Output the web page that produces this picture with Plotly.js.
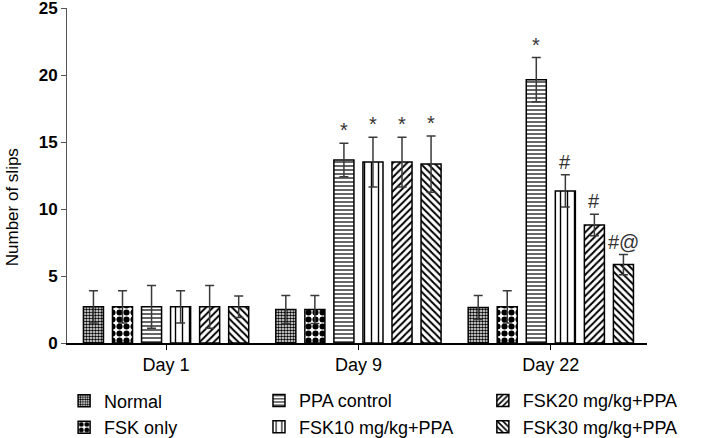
<!DOCTYPE html>
<html>
<head>
<meta charset="utf-8">
<script src="https://cdn.plot.ly/plotly-3.0.1.min.js"></script>
<style>html,body{margin:0;padding:0;background:#fff;}#chart{width:706px;height:438px;}</style>
</head>
<body>
<div id="chart"></div>
<script>
const days = ["Day 1", "Day 9", "Day 22"];
const groups = ["Normal", "FSK only", "PPA control", "FSK10 mg/kg+PPA", "FSK20 mg/kg+PPA", "FSK30 mg/kg+PPA"];
const yTitle = "Number of slips";
const normalVals = [2.7, 2.5, 2.65];
const normalErr = [1.2, 1.05, 0.9];
const fskOnlyVals = [2.7, 2.5, 2.7];
const fskOnlyErr = [1.2, 1.05, 1.2];
const ppaVals = [2.7, 13.65, 19.65];
const ppaErr = [1.6, 1.25, 1.65];
const fsk10Vals = [2.7, 13.5, 11.35];
const fsk10Err = [1.2, 1.85, 1.2];
const fsk20Vals = [2.7, 13.5, 8.8];
const fsk20Err = [1.6, 1.85, 0.8];
const fsk30Vals = [2.7, 13.35, 5.85];
const fsk30Err = [0.8, 2.1, 0.75];
const marks = [
  ["", "", "", "", "", ""],
  ["", "", "*", "*", "*", "*"],
  ["", "", "*", "#", "#", "#@"]
];

const values = [normalVals, fskOnlyVals, ppaVals, fsk10Vals, fsk20Vals, fsk30Vals];
const errs = [normalErr, fskOnlyErr, ppaErr, fsk10Err, fsk20Err, fsk30Err];
const patterns = [
  {shape: ".", size: 3, solidity: 0.55},
  {shape: ".", size: 7, solidity: 0.6},
  {shape: "-", size: 4, solidity: 0.3},
  {shape: "|", size: 7, solidity: 0.2},
  {shape: "/", size: 5, solidity: 0.4},
  {shape: "\\", size: 5, solidity: 0.4}
];
const legendIds = ["legend", "legend", "legend2", "legend2", "legend3", "legend3"];
const FONT = "Liberation Sans, Arial, sans-serif";

const traces = groups.map((g, i) => ({
  type: "bar",
  name: g,
  x: days,
  y: values[i],
  legend: legendIds[i],
  marker: {
    color: "#ffffff",
    line: {color: "#000000", width: 1.5},
    pattern: Object.assign({fgcolor: "#000000", bgcolor: "#ffffff", fillmode: "replace"}, patterns[i])
  },
  error_y: {type: "data", array: errs[i], visible: true, color: "#3a3a3a", thickness: 1.5, width: 4.5}
}));

const bargap = 0.094;
const slot = (1 - bargap) / groups.length;
const annotations = [];
days.forEach((d, di) => {
  groups.forEach((g, gi) => {
    const t = marks[di][gi];
    if (!t) return;
    annotations.push({
      x: di + (gi - (groups.length - 1) / 2) * slot,
      y: values[gi][di] + errs[gi][di],
      xref: "x", yref: "y",
      text: t, showarrow: false,
      yanchor: "bottom", yshift: 0,
      font: {family: FONT, size: 20, color: "#333333"}
    });
  });
});
annotations.push({
  text: yTitle, textangle: -90, showarrow: false,
  xref: "paper", yref: "paper", x: -0.095, y: 0.405,
  xanchor: "center", yanchor: "middle",
  font: {family: FONT, size: 17, color: "#000"}
});

const legendBase = {
  orientation: "v",
  xanchor: "left", yanchor: "top",
  xref: "paper", yref: "paper",
  bgcolor: "rgba(0,0,0,0)",
  font: {family: FONT, size: 18, color: "#000"},
  tracegroupgap: 0,
  itemwidth: 30,
  borderwidth: 0
};

const layout = {
  width: 706, height: 438,
  margin: {l: 67, r: 59, t: 8, b: 95, autoexpand: false},
  paper_bgcolor: "#ffffff", plot_bgcolor: "#ffffff",
  barmode: "group",
  bargap: bargap,
  bargroupgap: 0.31,
  showlegend: true,
  legend: Object.assign({}, legendBase, {x: -0.005, y: -0.118}),
  legend2: Object.assign({}, legendBase, {x: 0.331, y: -0.117}),
  legend3: Object.assign({}, legendBase, {x: 0.717, y: -0.117}),
  xaxis: {
    type: "category",
    range: [-0.515, 2.5],
    showline: true, linecolor: "#000", linewidth: 1.5,
    ticks: "outside", ticklen: 5, tickcolor: "#000", tickwidth: 1,
    tickfont: {family: FONT, size: 18, color: "#000"},
    showgrid: false, zeroline: false
  },
  yaxis: {
    range: [0, 25],
    tickvals: [0, 5, 10, 15, 20, 25],
    ticklabeloverflow: "allow",
    showline: true, linecolor: "#555", linewidth: 1,
    ticks: "outside", ticklen: 5, tickcolor: "#555",
    tickfont: {family: FONT, size: 17, color: "#000", weight: "bold"},
    showgrid: false, zeroline: false
  },
  annotations: annotations
};

Plotly.newPlot("chart", traces, layout, {displayModeBar: false, staticPlot: true});
</script>
</body>
</html>
